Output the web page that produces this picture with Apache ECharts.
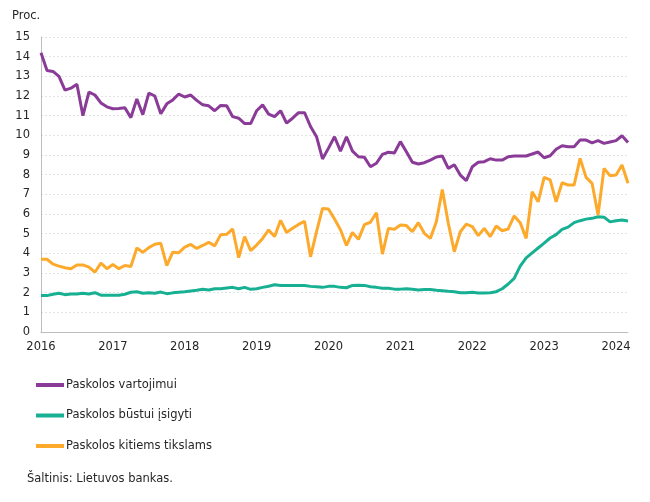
<!DOCTYPE html>
<html>
<head>
<meta charset="utf-8">
<script src="https://cdn.jsdelivr.net/npm/echarts@6/dist/echarts.min.js"></script>
<style>
html,body{margin:0;padding:0;background:#fff;}
#c{width:650px;height:502px;}
</style>
</head>
<body>
<div id="c"></div>
<script>
// Tick labels (years) and monthly categories 2016-01 .. 2024-03
const years = ['2016','2017','2018','2019','2020','2021','2022','2023','2024'];
const categories = [];
years.forEach(function (y) {
  for (let m = 1; m <= 12; m++) {
    if (y === '2024' && m > 3) break;
    categories.push(y + '-' + (m < 10 ? '0' + m : '' + m));
  }
});

const seriesNames = ['Paskolos vartojimui', 'Paskolos būstui įsigyti', 'Paskolos kitiems tikslams'];

const consumer = [
  14.2, 13.3, 13.25, 13.0, 12.3, 12.4, 12.6, 11.0, 12.2, 12.05, 11.65, 11.45,
  11.35, 11.37, 11.4, 10.9, 11.85, 11.05, 12.15, 12.0, 11.1, 11.6, 11.8, 12.1,
  11.95, 12.05, 11.78, 11.55, 11.5, 11.25, 11.52, 11.5, 10.95, 10.87, 10.6, 10.6,
  11.25, 11.55, 11.08, 10.95, 11.25, 10.62, 10.87, 11.15, 11.15, 10.45, 9.93, 8.8,
  9.35, 9.93, 9.2, 9.93, 9.2, 8.91, 8.88, 8.4, 8.58, 9.03, 9.14, 9.1,
  9.68, 9.17, 8.63, 8.54, 8.61, 8.74, 8.9, 8.95, 8.32, 8.5, 7.98, 7.7,
  8.4, 8.63, 8.66, 8.81, 8.74, 8.74, 8.91, 8.95, 8.95, 8.95, 9.05, 9.15,
  8.86, 8.96, 9.29, 9.47, 9.42, 9.42, 9.76, 9.76, 9.62, 9.73, 9.59, 9.66,
  9.73, 9.98, 9.64
];

const housing = [
  1.85, 1.85, 1.92, 1.97, 1.9, 1.93, 1.93, 1.97, 1.93, 2.0, 1.87, 1.87,
  1.87, 1.87, 1.92, 2.02, 2.05, 1.97, 2.0, 1.97, 2.03, 1.95, 1.99, 2.02,
  2.05, 2.09, 2.12, 2.17, 2.14, 2.2, 2.2, 2.24, 2.27, 2.2, 2.27, 2.17,
  2.2, 2.27, 2.33, 2.4, 2.36, 2.36, 2.36, 2.36, 2.36, 2.32, 2.3, 2.27,
  2.32, 2.32, 2.27, 2.25, 2.37, 2.38, 2.37, 2.3, 2.27, 2.22, 2.22, 2.18,
  2.18, 2.2, 2.17, 2.14, 2.16, 2.16, 2.12, 2.1, 2.07, 2.05, 2.0, 2.0,
  2.02, 1.98, 1.98, 2.0, 2.05, 2.2, 2.44, 2.73, 3.35, 3.77, 4.02, 4.27,
  4.52, 4.78, 4.95, 5.22, 5.33, 5.56, 5.66, 5.74, 5.78, 5.86, 5.84, 5.6,
  5.66, 5.69, 5.64
];

const other = [
  3.7, 3.7, 3.45, 3.35, 3.27, 3.22, 3.41, 3.41, 3.3, 3.04, 3.5, 3.22,
  3.43, 3.22, 3.38, 3.33, 4.27, 4.05, 4.29, 4.46, 4.51, 3.37, 4.06, 4.03,
  4.32, 4.45, 4.25, 4.4, 4.56, 4.38, 4.95, 4.97, 5.24, 3.78, 4.85, 4.14,
  4.42, 4.76, 5.19, 4.86, 5.68, 5.06, 5.27, 5.47, 5.63, 3.82, 5.1, 6.28,
  6.25, 5.75, 5.2, 4.4, 5.06, 4.71, 5.46, 5.58, 6.06, 3.96, 5.27, 5.22,
  5.44, 5.41, 5.1, 5.56, 5.02, 4.76, 5.61, 7.25, 5.53, 4.08, 5.1, 5.48,
  5.36, 4.9, 5.27, 4.85, 5.39, 5.15, 5.24, 5.9, 5.56, 4.76, 7.13, 6.62,
  7.86, 7.73, 6.62, 7.59, 7.47, 7.47, 8.83, 7.86, 7.56, 5.95, 8.32, 7.95,
  7.98, 8.49, 7.56
];

const colors = ['#8a3b97', '#17b092', '#fdaa2c'];
const FONT = 'DejaVu Sans';

const chart = echarts.init(document.getElementById('c'), null, { renderer: 'canvas' });

function lineSeries(name, data, color) {
  return {
    name: name,
    type: 'line',
    data: data,
    showSymbol: false,
    symbol: 'none',
    smooth: false,
    lineStyle: { color: color, width: 3 },
    itemStyle: { color: color },
    emphasis: { disabled: true },
    animation: false
  };
}

chart.setOption({
  animation: false,
  color: colors,
  grid: { left: 41, right: 22, top: 37, bottom: 170, containLabel: false },
  xAxis: {
    type: 'category',
    data: categories,
    boundaryGap: false,
    axisLine: { show: true, lineStyle: { color: '#bdbdbd', width: 1 } },
    axisTick: { show: false },
    axisLabel: {
      interval: function (index) { return index % 12 === 0; },
      formatter: function (v) { return v.slice(0, 4); },
      color: '#262626',
      fontFamily: FONT,
      fontSize: 11.5,
      margin: 9,
      hideOverlap: false
    },
    splitLine: { show: false }
  },
  yAxis: {
    type: 'value',
    min: 0,
    max: 15,
    interval: 1,
    axisLine: { show: true, lineStyle: { color: '#bdbdbd', width: 1 } },
    axisTick: { show: false },
    axisLabel: {
      color: '#262626',
      fontFamily: FONT,
      fontSize: 11.5,
      margin: 11
    },
    splitLine: { show: true, lineStyle: { color: '#e3e3e3', type: [2, 2], width: 1 } }
  },
  legend: {
    orient: 'vertical',
    left: 36,
    top: 379,
    padding: 0,
    itemWidth: 28,
    itemHeight: 4,
    itemGap: 18.5,
    icon: 'rect',
    selectedMode: false,
    textStyle: {
      fontFamily: FONT,
      fontSize: 11.5,
      color: '#262626',
      padding: [0, 0, 0, -3]
    },
    data: seriesNames
  },
  graphic: [
    {
      type: 'text',
      left: 12,
      top: 10,
      style: { text: 'Proc.', fontFamily: FONT, fontSize: 11.5, fill: '#262626' }
    },
    {
      type: 'text',
      left: 27,
      top: 473,
      style: { text: 'Šaltinis: Lietuvos bankas.', fontFamily: FONT, fontSize: 11.5, fill: '#262626' }
    }
  ],
  series: [
    lineSeries(seriesNames[0], consumer, colors[0]),
    lineSeries(seriesNames[1], housing, colors[1]),
    lineSeries(seriesNames[2], other, colors[2])
  ]
});
</script>
</body>
</html>
